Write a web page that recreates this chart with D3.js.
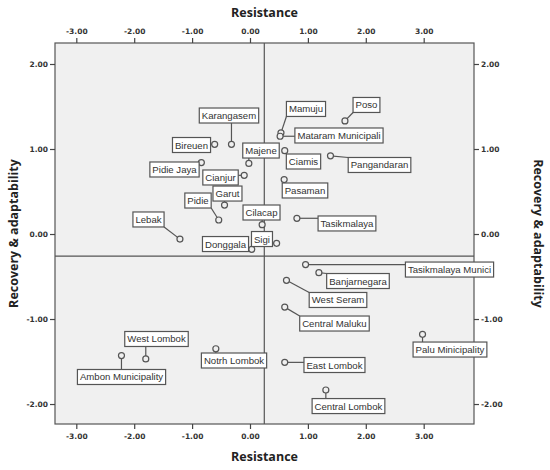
<!DOCTYPE html>
<html><head><meta charset="utf-8">
<script src="https://cdn.jsdelivr.net/npm/d3@7"></script>
<style>body{margin:0;background:#fff}svg{display:block}</style>
</head><body>
<svg id="c" width="550" height="470"></svg>
<script>
const names = ["Karangasem","Bireuen","Pidie Jaya","Majene","Cianjur","Garut","Pidie","Cilacap","Lebak","Donggala","Sigi","West Lombok","Ambon Municipality","Notrh Lombok","Mamuju","Mataram Municipali","Poso","Ciamis","Pangandaran","Pasaman","Tasikmalaya","Tasikmalaya Munici","Banjarnegara","West Seram","Central Maluku","Palu Minicipality","East Lombok","Central Lombok"];
const resistance = [-0.32,-0.61,-0.84,-0.02,-0.10,-0.44,-0.54,0.21,-1.21,0.03,0.46,-1.80,-2.22,-0.59,0.535,0.52,1.64,0.60,1.39,0.59,0.81,0.96,1.19,0.63,0.60,2.98,0.60,1.31];
const recovery = [1.055,1.055,0.84,0.83,0.69,0.34,0.165,0.11,-0.06,-0.18,-0.11,-1.47,-1.43,-1.35,1.19,1.15,1.33,0.98,0.92,0.64,0.185,-0.36,-0.455,-0.545,-0.86,-1.18,-1.51,-1.835];
// label anchor points (data units)
const labelX = [-0.363,-1.010,-1.304,0.190,-0.509,-0.389,-0.898,0.199,-1.753,-0.423,0.207,-1.615,-2.219,-0.276,0.967,1.537,2.012,0.924,2.237,0.950,1.675,3.446,1.865,1.520,1.459,3.454,1.459,1.701];
const labelY = [1.394,1.047,0.759,0.982,0.665,0.476,0.394,0.253,0.171,-0.118,-0.059,-1.235,-1.682,-1.488,1.471,1.159,1.518,0.853,0.812,0.512,0.124,-0.418,-0.553,-0.776,-1.053,-1.359,-1.541,-2.024];
const xTicks = [-3,-2,-1,0,1,2,3];
const yTicks = [-2,-1,0,1,2];
const xDomain = [-3.368,3.869];
const yDomain = [-2.235,2.247];
const xRef = 0.247, yRef = -0.26;

const svg = d3.select("#c");
const L=55,R=474,T=43,B=424;
const x = d3.scaleLinear().domain(xDomain).range([L,R]);
const y = d3.scaleLinear().domain(yDomain).range([B,T]);
const fmt = d => d3.format(".2f")(d).replace("−","-");
const tickFont = "'DejaVu Sans', sans-serif";

svg.append("rect").attr("x",L).attr("y",T).attr("width",R-L).attr("height",B-T)
  .attr("fill","#f0f0f0").attr("stroke","#555").attr("stroke-width",1.2);

function styleAxis(g){
  g.select(".domain").remove();
  g.selectAll(".tick line").attr("stroke","#444").attr("stroke-width",1.2);
  g.selectAll(".tick text").attr("fill","#333").style("font-family",tickFont)
   .style("font-size","7.5px").style("font-weight","bold");
}
svg.append("g").attr("transform",`translate(0,${T})`)
  .call(d3.axisTop(x).tickValues(xTicks).tickSize(5).tickPadding(4).tickFormat(fmt)).call(styleAxis);
svg.append("g").attr("transform",`translate(0,${B})`)
  .call(d3.axisBottom(x).tickValues(xTicks).tickSize(5).tickPadding(5).tickFormat(fmt)).call(styleAxis);
svg.append("g").attr("transform",`translate(${L},0)`)
  .call(d3.axisLeft(y).tickValues(yTicks).tickSize(5).tickPadding(2).tickFormat(fmt)).call(styleAxis);
svg.append("g").attr("transform",`translate(${R},0)`)
  .call(d3.axisRight(y).tickValues(yTicks).tickSize(5).tickPadding(2).tickFormat(fmt)).call(styleAxis);

// reference lines
svg.append("line").attr("x1",x(xRef)).attr("x2",x(xRef)).attr("y1",T).attr("y2",B)
  .attr("stroke","#555").attr("stroke-width",1.2);
svg.append("line").attr("x1",L).attr("x2",R).attr("y1",y(yRef)).attr("y2",y(yRef))
  .attr("stroke","#555").attr("stroke-width",1.2);

// titles
const titleFont = "'Open Sans', sans-serif";
function title(tx,ty,rot,txt){
  svg.append("text").attr("transform",`translate(${tx},${ty}) rotate(${rot})`)
    .attr("text-anchor","middle").attr("dominant-baseline","middle")
    .style("font-family",titleFont).style("font-size","12.5px").style("font-weight","bold")
    .attr("fill","#222").text(txt);
}
const cx=(L+R)/2, cy=(T+B)/2;
title(cx,14,0,"Resistance");
title(cx,458,0,"Resistance");
title(15,cy,-90,"Recovery & adaptability");
title(537,cy,90,"Recovery & adaptability");

const data = names.map((n,i)=>({n,px:x(resistance[i]),py:y(recovery[i]),lx:x(labelX[i]),ly:y(labelY[i])}));
const gLines = svg.append("g"), gPts = svg.append("g"), gLab = svg.append("g");
data.forEach(d=>{
  const g = gLab.append("g");
  const t = g.append("text").attr("x",d.lx).attr("y",d.ly).attr("text-anchor","middle")
    .attr("dominant-baseline","central").style("font-family","'Liberation Sans', Arial, sans-serif")
    .style("font-size","9.6px").attr("fill","#333").text(d.n);
  const w = t.node().getComputedTextLength()+5, h=15;
  const bx=d.lx-w/2, by=d.ly-h/2;
  g.insert("rect","text").attr("x",bx).attr("y",by).attr("width",w).attr("height",h)
    .attr("fill","#fff").attr("stroke","#555").attr("stroke-width",1.2);
  const qx = Math.max(bx,Math.min(d.px,bx+w)), qy=Math.max(by,Math.min(d.py,by+h));
  gLines.append("line").attr("x1",d.px).attr("y1",d.py).attr("x2",qx).attr("y2",qy)
    .attr("stroke","#555").attr("stroke-width",1.2);
  gPts.append("circle").attr("cx",d.px).attr("cy",d.py).attr("r",3)
    .attr("fill","#f0f0f0").attr("stroke","#555").attr("stroke-width",1.2);
});
</script>
</body></html>
